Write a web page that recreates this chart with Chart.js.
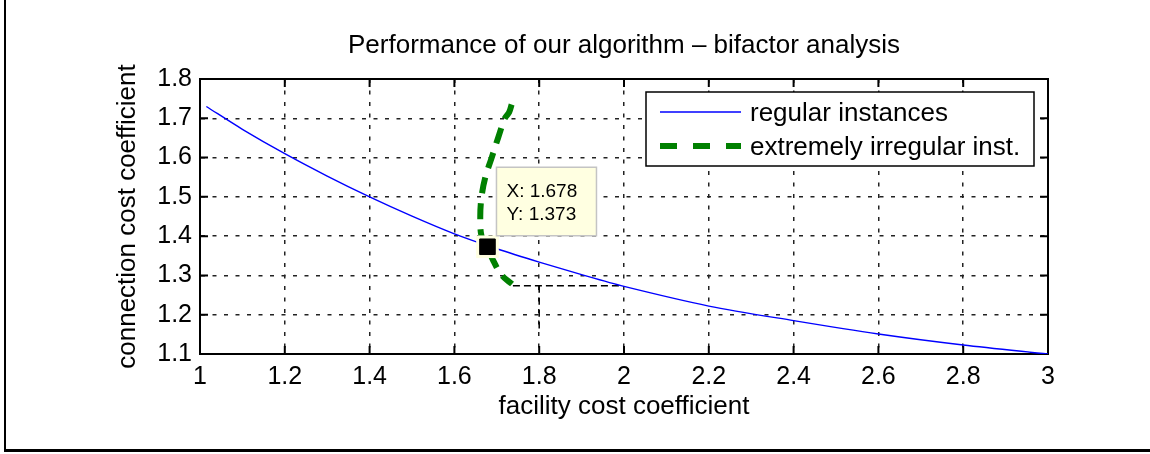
<!DOCTYPE html>
<html>
<head>
<meta charset="utf-8">
<title>Performance of our algorithm – bifactor analysis</title>
<script src="https://cdn.jsdelivr.net/npm/chart.js@4/dist/chart.umd.min.js"></script>
<style>
  html, body { margin: 0; padding: 0; background: #fff; }
</style>
</head>
<body>
<canvas id="chart" width="1150" height="454"></canvas>
<script>
// regular instances (solid blue)
const regularX = [1.015, 1.1, 1.2, 1.3, 1.4, 1.5, 1.6, 1.7, 1.8, 1.9, 2.0, 2.2, 2.4, 2.6, 2.8, 3.0];
const regularY = [1.730, 1.672, 1.610, 1.553, 1.500, 1.451, 1.406, 1.368, 1.334, 1.302, 1.272, 1.222, 1.185, 1.151, 1.123, 1.100];

// extremely irregular instances (thick green dashes), top to bottom
const irregularX = [1.735, 1.729, 1.719, 1.703, 1.688, 1.673, 1.664, 1.661, 1.664, 1.678, 1.691, 1.712, 1.736];
const irregularY = [1.735, 1.715, 1.700, 1.650, 1.600, 1.550, 1.500, 1.450, 1.400, 1.373, 1.339, 1.300, 1.278];

// data tip
const tipX = [1.678];
const tipY = [1.373];

// black dashed guides
const guideHX = [1.738, 1.99];
const guideHY = [1.274, 1.274];
const guideVX = [1.8, 1.8];
const guideVY = [1.274, 1.165];

// ticks
const xTicks = [1, 1.2, 1.4, 1.6, 1.8, 2, 2.2, 2.4, 2.6, 2.8, 3];
const xTickLabels = ['1', '1.2', '1.4', '1.6', '1.8', '2', '2.2', '2.4', '2.6', '2.8', '3'];
const yTicks = [1.1, 1.2, 1.3, 1.4, 1.5, 1.6, 1.7, 1.8];
const yTickLabels = ['1.1', '1.2', '1.3', '1.4', '1.5', '1.6', '1.7', '1.8'];

const FONT = '"Liberation Sans", Arial, Helvetica, sans-serif';

function pts(xs, ys) {
    return xs.map((x, i) => ({ x: x, y: ys[i] }));
}

// outer figure frame (left + bottom edges only are visible)
const framePlugin = {
    id: 'frame',
    beforeDraw(chart) {
        const ctx = chart.ctx;
        ctx.save();
        ctx.fillStyle = '#fff';
        ctx.fillRect(0, 0, chart.width, chart.height);
        ctx.fillStyle = '#000';
        ctx.fillRect(4, 0, 2, 451);
        ctx.fillRect(4, 449, chart.width - 4, 3);
        ctx.restore();
    }
};

// axes box on all four sides with inward tick marks
const axesBoxPlugin = {
    id: 'axesBox',
    beforeDatasetsDraw(chart) {
        const { ctx, chartArea: a, scales } = chart;
        ctx.save();
        ctx.strokeStyle = '#000';
        ctx.lineWidth = 2;
        ctx.strokeRect(a.left, a.top, a.right - a.left, a.bottom - a.top);
        ctx.beginPath();
        scales.x.ticks.forEach(t => {
            const p = scales.x.getPixelForValue(t.value);
            ctx.moveTo(p, a.bottom); ctx.lineTo(p, a.bottom - 8);
            ctx.moveTo(p, a.top); ctx.lineTo(p, a.top + 8);
        });
        scales.y.ticks.forEach(t => {
            const p = scales.y.getPixelForValue(t.value);
            ctx.moveTo(a.left, p); ctx.lineTo(a.left + 8, p);
            ctx.moveTo(a.right, p); ctx.lineTo(a.right - 8, p);
        });
        ctx.stroke();
        ctx.restore();
    }
};

// legend box inside the upper right of the axes
const boxLegendPlugin = {
    id: 'boxLegend',
    afterDraw(chart) {
        const { ctx, chartArea: a } = chart;
        const w = 388, h = 74;
        const left = a.right - 14 - w, top = a.top + 13;
        ctx.save();
        ctx.fillStyle = '#fff';
        ctx.fillRect(left, top, w, h);
        ctx.strokeStyle = '#000';
        ctx.lineWidth = 1.5;
        ctx.strokeRect(left, top, w, h);
        const items = chart.data.datasets.filter(d => d.label);
        items.forEach((d, i) => {
            const y = top + 20 + i * 34;
            ctx.strokeStyle = d.borderColor;
            ctx.lineWidth = d.borderWidth;
            ctx.setLineDash(d.legendDash || []);
            ctx.beginPath();
            ctx.moveTo(left + 14, y);
            ctx.lineTo(left + 95, y);
            ctx.stroke();
            ctx.setLineDash([]);
            ctx.fillStyle = '#000';
            ctx.font = '26px ' + FONT;
            ctx.textBaseline = 'middle';
            ctx.fillText(d.label, left + 104, y + 2);
        });
        ctx.restore();
    }
};

// MATLAB-like data tip next to the marked point
const dataTipPlugin = {
    id: 'dataTip',
    afterDraw(chart) {
        const { ctx, scales } = chart;
        const px = scales.x.getPixelForValue(tipX[0]);
        const py = scales.y.getPixelForValue(tipY[0]);
        ctx.save();
        ctx.fillStyle = '#ffffe1';
        ctx.fillRect(px + 9, py - 79.5, 100, 68.5);
        ctx.strokeStyle = '#c4c4c4';
        ctx.lineWidth = 1.5;
        ctx.strokeRect(px + 9, py - 79.5, 100, 68.5);
        ctx.fillStyle = '#000';
        ctx.font = '19px ' + FONT;
        ctx.textBaseline = 'alphabetic';
        ctx.fillText('X: ' + tipX[0].toFixed(3), px + 19, py - 50);
        ctx.fillText('Y: ' + tipY[0].toFixed(3), px + 19, py - 27);
        ctx.restore();
    }
};

new Chart(document.getElementById('chart'), {
    type: 'line',
    data: {
        datasets: [
            {
                data: pts(tipX, tipY),
                showLine: false,
                pointStyle: 'rect',
                pointRadius: 11,
                pointBackgroundColor: '#000',
                pointBorderColor: '#000',
                pointBorderWidth: 1,
                order: 0
            },
            {
                data: pts(tipX, tipY),
                showLine: false,
                pointStyle: 'rect',
                pointRadius: 16,
                pointBackgroundColor: '#ffffe1',
                pointBorderColor: '#ffffe1',
                pointBorderWidth: 0,
                order: 1
            },
            {
                label: 'regular instances',
                data: pts(regularX, regularY),
                borderColor: '#0000ff',
                borderWidth: 1.4,
                pointRadius: 0,
                tension: 0.3,
                fill: false,
                order: 2
            },
            {
                label: 'extremely irregular inst.',
                data: pts(irregularX, irregularY),
                borderColor: '#008000',
                borderWidth: 6,
                borderDash: [16, 10],
                legendDash: [17, 16],
                pointRadius: 0,
                tension: 0.35,
                fill: false,
                order: 3
            },
            {
                data: pts(guideHX, guideHY),
                borderColor: '#000',
                borderWidth: 1.5,
                borderDash: [7, 4],
                pointRadius: 0,
                order: 4
            },
            {
                data: pts(guideVX, guideVY),
                borderColor: '#000',
                borderWidth: 1.5,
                borderDash: [7, 5],
                pointRadius: 0,
                order: 4
            }
        ]
    },
    options: {
        responsive: false,
        animation: false,
        events: [],
        layout: { padding: { left: 100, right: 102, top: 0, bottom: 20 } },
        plugins: {
            legend: { display: false },
            tooltip: { enabled: false },
            title: {
                display: true,
                fullSize: false,
                text: 'Performance of our algorithm – bifactor analysis',
                color: '#000',
                font: { family: FONT, size: 26, weight: 'normal' },
                padding: { top: 30.4, bottom: 17.4 }
            }
        },
        scales: {
            x: {
                type: 'linear',
                min: 1,
                max: 3,
                afterBuildTicks: s => { s.ticks = xTicks.map(v => ({ value: v })); },
                afterFit: s => { s.height = 80; },
                ticks: {
                    color: '#000',
                    padding: 8,
                    maxRotation: 0,
                    font: { family: FONT, size: 25 },
                    callback: (v, i) => xTickLabels[i]
                },
                grid: { color: '#222', lineWidth: 1.5, drawTicks: false },
                border: { display: true, color: '#000', width: 2, dash: [4, 7.5] },
                title: {
                    display: true,
                    text: 'facility cost coefficient',
                    color: '#000',
                    font: { family: FONT, size: 26 },
                    padding: { top: 0, bottom: 11.7 }
                }
            },
            y: {
                min: 1.1,
                max: 1.8,
                afterBuildTicks: s => { s.ticks = yTicks.map(v => ({ value: v })); },
                afterFit: s => { s.width = 100; },
                ticks: {
                    color: '#000',
                    padding: 8,
                    font: { family: FONT, size: 25 },
                    callback: (v, i) => yTickLabels[i]
                },
                grid: { color: '#222', lineWidth: 1.5, drawTicks: false },
                border: { display: true, color: '#000', width: 2, dash: [4, 7.5] },
                title: {
                    display: true,
                    text: 'connection cost coefficient',
                    color: '#000',
                    font: { family: FONT, size: 26 },
                    padding: { top: 12.1, bottom: 0 }
                }
            }
        }
    },
    plugins: [framePlugin, axesBoxPlugin, boxLegendPlugin, dataTipPlugin]
});
</script>
</body>
</html>
